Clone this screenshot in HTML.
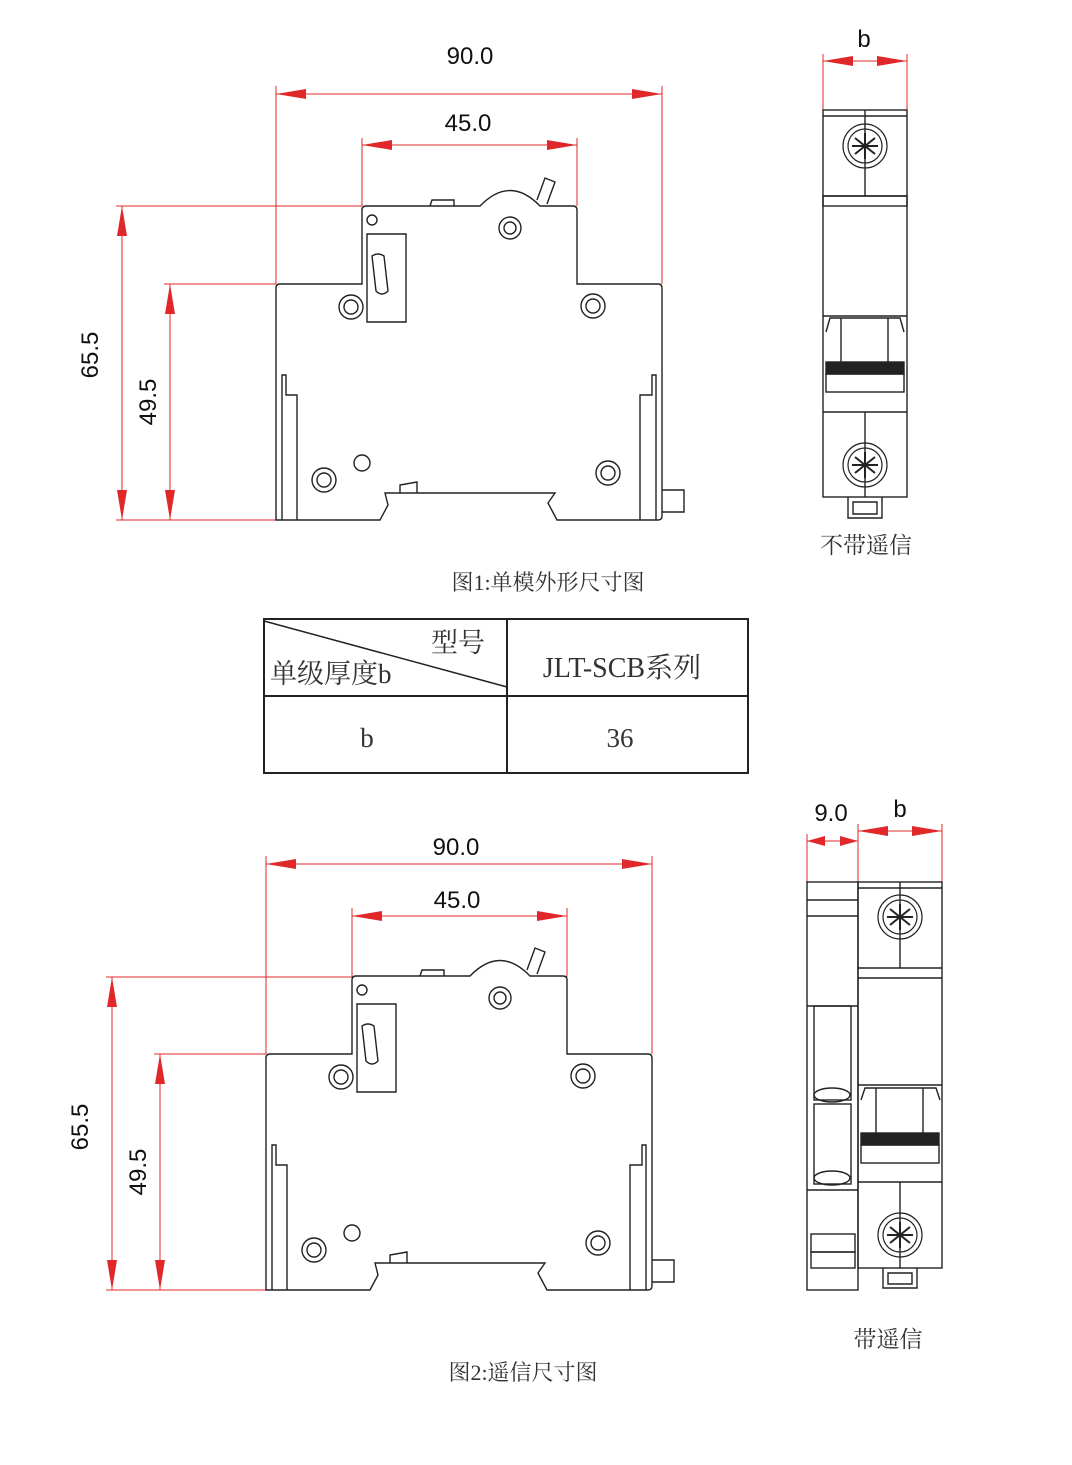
<!DOCTYPE html>
<html><head><meta charset="utf-8"><style>
html,body{margin:0;padding:0;background:#fff;}
svg{display:block;}
.s{font-family:"Liberation Serif","Noto Serif CJK SC","Noto Sans CJK SC",serif;fill:#333;}
.a{font-family:"Liberation Sans",sans-serif;fill:#111;}
</style></head><body>
<svg width="1072" height="1465" viewBox="0 0 1072 1465" xmlns="http://www.w3.org/2000/svg">
<defs>
<path id="al" d="M0,0 L30,-5 L30,5 Z" fill="#e0282a"/>
<g id="side" fill="none" stroke="#222" stroke-width="1.4">
  <path d="M276,520 L276,288 Q276,284 280,284 L362,284 L362,210 Q362,206 366,206 L480,206 Q510,175 540,206 L573,206 Q577,206 577,210 L577,284 L658,284 Q662,284 662,288 L662,516 Q662,520 658,520 L557,520 L548,503 L555,493 L385,493 L388,505 L380,520 Z"/>
  <path d="M282,520 L282,375 L286,375 L286,395 L297,395 L297,520"/>
  <path d="M656,520 L656,375 L652,375 L652,395 L640,395 L640,520"/>
  <path d="M367,234 L406,234 L406,322 L367,322 Z"/>
  <path d="M372,256 q6,-4 12,0 l4,35 q-6,6 -12,0 Z"/>
  <path d="M430,206 l2,-6 l22,0 l0,6"/>
  <path d="M537,200 l8,-22 l10,4 l-8,22"/>
  <path d="M662,490 L684,490 L684,512 L662,512"/>
  <path d="M400,493 l0,-8 l17,-3 l0,11"/>
  <circle cx="351" cy="307" r="12"/><circle cx="351" cy="307" r="7"/>
  <circle cx="593" cy="306" r="12"/><circle cx="593" cy="306" r="7"/>
  <circle cx="510" cy="228" r="11"/><circle cx="510" cy="228" r="6"/>
  <circle cx="324" cy="480" r="12"/><circle cx="324" cy="480" r="7"/>
  <circle cx="608" cy="473" r="12"/><circle cx="608" cy="473" r="7"/>
  <circle cx="362" cy="463" r="8"/>
  <circle cx="372" cy="220" r="5"/>
</g>
<g id="screw" fill="none" stroke="#222" stroke-width="1.2">
  <circle r="22"/><circle r="17"/>
  <path d="M-10,-8 L10,8 M-10,8 L10,-8 M0,-13 L0,13 M-13,0 L13,0" stroke-width="2"/>
</g>
</defs>

<!-- ===== Figure 1 ===== -->
<g stroke="#e0282a" stroke-width="1" fill="none">
  <line x1="276" y1="284" x2="276" y2="86"/><line x1="662" y1="284" x2="662" y2="86"/>
  <line x1="362" y1="206" x2="362" y2="138"/><line x1="577" y1="206" x2="577" y2="138"/>
  <line x1="116" y1="206" x2="362" y2="206"/><line x1="164" y1="284" x2="276" y2="284"/>
  <line x1="116" y1="520" x2="300" y2="520"/>
  <line x1="276" y1="94" x2="662" y2="94"/>
  <line x1="362" y1="145" x2="577" y2="145"/>
  <line x1="122" y1="206" x2="122" y2="520"/>
  <line x1="170" y1="284" x2="170" y2="520"/>
</g>
<use href="#al" transform="translate(276,94)"/><use href="#al" transform="translate(662,94) rotate(180)"/>
<use href="#al" transform="translate(362,145)"/><use href="#al" transform="translate(577,145) rotate(180)"/>
<use href="#al" transform="translate(122,206) rotate(90)"/><use href="#al" transform="translate(122,520) rotate(-90)"/>
<use href="#al" transform="translate(170,284) rotate(90)"/><use href="#al" transform="translate(170,520) rotate(-90)"/>
<use href="#side"/>
<text class="a" x="470" y="64" font-size="24" text-anchor="middle">90.0</text>
<text class="a" x="468" y="131" font-size="24" text-anchor="middle">45.0</text>
<text class="a" font-size="24" text-anchor="middle" transform="translate(98,355) rotate(-90)">65.5</text>
<text class="a" font-size="24" text-anchor="middle" transform="translate(156,402) rotate(-90)">49.5</text>

<!-- end view 1 -->
<g stroke="#e0282a" stroke-width="1" fill="none">
  <line x1="823" y1="110" x2="823" y2="54"/><line x1="907" y1="110" x2="907" y2="54"/>
  <line x1="823" y1="61" x2="907" y2="61"/>
</g>
<use href="#al" transform="translate(823,61)"/><use href="#al" transform="translate(907,61) rotate(180)"/>
<text class="a" x="864" y="47" font-size="24" text-anchor="middle">b</text>
<g fill="none" stroke="#222" stroke-width="1.4">
  <rect x="823" y="110" width="84" height="387"/>
  <line x1="823" y1="116" x2="907" y2="116"/>
  <line x1="865" y1="110" x2="865" y2="196"/><line x1="823" y1="196" x2="907" y2="196"/>
  <rect x="823" y="196" width="84" height="10"/>
  <path d="M823,316 L907,316 M826,332 L830,318 L900,318 L904,332"/>
  <line x1="841" y1="318" x2="841" y2="362"/><line x1="888" y1="318" x2="888" y2="362"/>
  <rect x="826" y="362" width="78" height="12" fill="#222"/>
  <rect x="826" y="374" width="78" height="18"/>
  <line x1="823" y1="412" x2="907" y2="412"/>
  <line x1="865" y1="412" x2="865" y2="497"/>
  <path d="M848,497 L848,518 L882,518 L882,497 M853,502 L877,502 L877,514 L853,514 Z"/>
</g>
<use href="#screw" x="865" y="146"/>
<use href="#screw" x="865" y="465"/>
<text class="s" x="866" y="553" font-size="23" text-anchor="middle">不带遥信</text>

<text class="s" x="548" y="590" font-size="22" text-anchor="middle">图1:单模外形尺寸图</text>

<!-- table -->
<g stroke="#222" stroke-width="2" fill="none">
  <rect x="264" y="619" width="484" height="154"/>
  <line x1="264" y1="696" x2="748" y2="696"/>
  <line x1="507" y1="619" x2="507" y2="773"/>
  <line x1="264" y1="621" x2="507" y2="687" stroke-width="1.5"/>
</g>
<text class="s" x="458" y="652" font-size="27" text-anchor="middle">型号</text>
<text class="s" x="270" y="683" font-size="27">单级厚度b</text>
<text class="s" x="622" y="677" font-size="28" text-anchor="middle">JLT-SCB系列</text>
<text class="s" x="367" y="747" font-size="27" text-anchor="middle">b</text>
<text class="s" x="620" y="747" font-size="27" text-anchor="middle">36</text>

<!-- ===== Figure 2 ===== -->
<g stroke="#e0282a" stroke-width="1" fill="none">
  <line x1="266" y1="1054" x2="266" y2="856"/><line x1="652" y1="1054" x2="652" y2="856"/>
  <line x1="352" y1="977" x2="352" y2="908"/><line x1="567" y1="977" x2="567" y2="908"/>
  <line x1="106" y1="977" x2="352" y2="977"/><line x1="154" y1="1054" x2="266" y2="1054"/>
  <line x1="106" y1="1290" x2="290" y2="1290"/>
  <line x1="266" y1="864" x2="652" y2="864"/>
  <line x1="352" y1="916" x2="567" y2="916"/>
  <line x1="112" y1="977" x2="112" y2="1290"/>
  <line x1="160" y1="1054" x2="160" y2="1290"/>
</g>
<use href="#al" transform="translate(266,864)"/><use href="#al" transform="translate(652,864) rotate(180)"/>
<use href="#al" transform="translate(352,916)"/><use href="#al" transform="translate(567,916) rotate(180)"/>
<use href="#al" transform="translate(112,977) rotate(90)"/><use href="#al" transform="translate(112,1290) rotate(-90)"/>
<use href="#al" transform="translate(160,1054) rotate(90)"/><use href="#al" transform="translate(160,1290) rotate(-90)"/>
<use href="#side" transform="translate(-10,770)"/>
<text class="a" x="456" y="855" font-size="24" text-anchor="middle">90.0</text>
<text class="a" x="457" y="908" font-size="24" text-anchor="middle">45.0</text>
<text class="a" font-size="24" text-anchor="middle" transform="translate(88,1127) rotate(-90)">65.5</text>
<text class="a" font-size="24" text-anchor="middle" transform="translate(146,1172) rotate(-90)">49.5</text>

<!-- end view 2 -->
<g stroke="#e0282a" stroke-width="1" fill="none">
  <line x1="807" y1="882" x2="807" y2="834"/><line x1="858" y1="882" x2="858" y2="824"/>
  <line x1="942" y1="882" x2="942" y2="824"/>
  <line x1="807" y1="841" x2="858" y2="841"/>
  <line x1="858" y1="831" x2="942" y2="831"/>
</g>
<use href="#al" transform="translate(807,841) scale(0.6,1)"/><use href="#al" transform="translate(858,841) rotate(180) scale(0.6,1)"/>
<use href="#al" transform="translate(858,831)"/><use href="#al" transform="translate(942,831) rotate(180)"/>
<text class="a" x="831" y="821" font-size="24" text-anchor="middle">9.0</text>
<text class="a" x="900" y="817" font-size="24" text-anchor="middle">b</text>
<g fill="none" stroke="#222" stroke-width="1.4">
  <rect x="807" y="882" width="51" height="408"/>
  <line x1="807" y1="900" x2="858" y2="900"/><line x1="807" y1="916" x2="858" y2="916"/>
  <line x1="807" y1="1006" x2="858" y2="1006"/>
  <rect x="814" y="1006" width="37" height="94"/>
  <ellipse cx="832" cy="1095" rx="18" ry="7"/>
  <rect x="814" y="1104" width="37" height="80"/>
  <ellipse cx="832" cy="1178" rx="18" ry="7"/>
  <line x1="807" y1="1190" x2="858" y2="1190"/>
  <rect x="811" y="1234" width="44" height="18"/><rect x="811" y="1252" width="44" height="16"/>
  <rect x="858" y="882" width="84" height="386"/>
  <line x1="858" y1="888" x2="942" y2="888"/>
  <line x1="900" y1="882" x2="900" y2="968"/>
  <line x1="858" y1="968" x2="942" y2="968"/><line x1="858" y1="978" x2="942" y2="978"/>
  <path d="M858,1085 L942,1085 M861,1100 L865,1088 L936,1088 L940,1100"/>
  <line x1="876" y1="1088" x2="876" y2="1133"/><line x1="923" y1="1088" x2="923" y2="1133"/>
  <rect x="861" y="1133" width="78" height="12" fill="#222"/>
  <rect x="861" y="1145" width="78" height="18"/>
  <line x1="858" y1="1182" x2="942" y2="1182"/>
  <line x1="900" y1="1182" x2="900" y2="1268"/>
  <path d="M883,1268 L883,1288 L917,1288 L917,1268 M888,1273 L912,1273 L912,1284 L888,1284 Z"/>
</g>
<use href="#screw" x="900" y="917"/>
<use href="#screw" x="900" y="1235"/>
<text class="s" x="888" y="1347" font-size="23" text-anchor="middle">带遥信</text>

<text class="s" x="523" y="1380" font-size="22" text-anchor="middle">图2:遥信尺寸图</text>
</svg>
</body></html>
